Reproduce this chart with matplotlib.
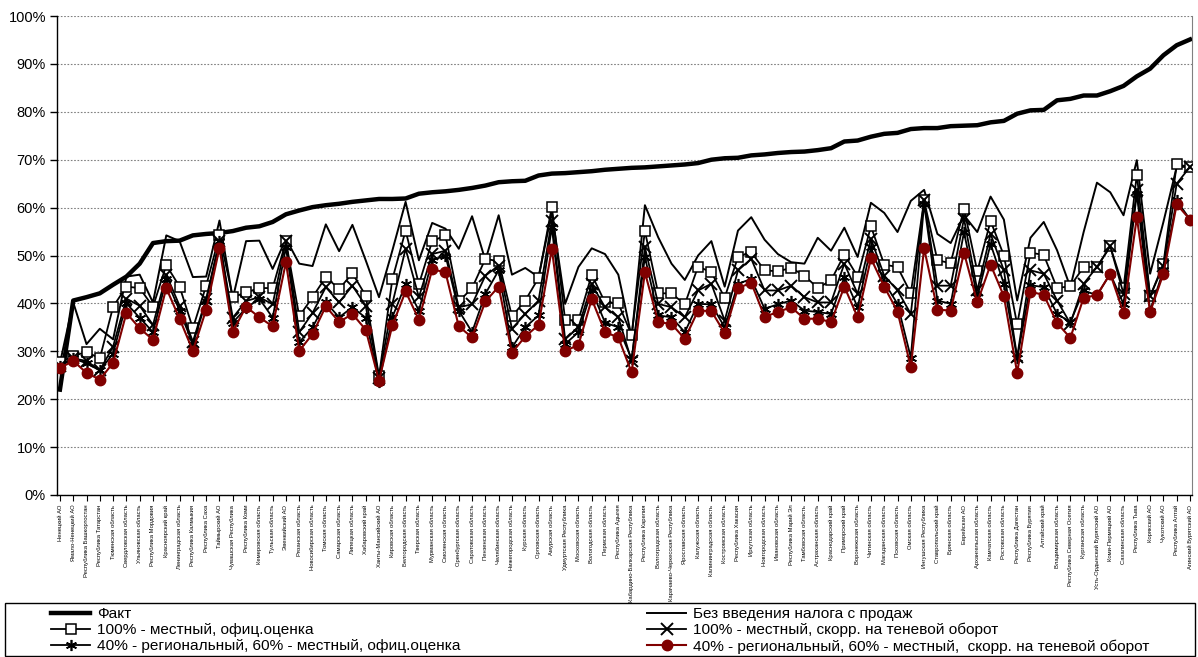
import matplotlib
matplotlib.use("Agg")
import matplotlib.pyplot as plt
from matplotlib.patches import Rectangle
from matplotlib.ticker import PercentFormatter, FixedLocator

# Данные (доля, %), регионы упорядочены по факту
regions = [
    "Ненецкий АО", "Ямало-Ненецкий АО", "Республика Башкортостан", "Республика Татарстан",
    "Тюменская область", "Свердловская область", "Ульяновская область", "Республика Мордовия",
    "Красноярский край", "Ленинградская область", "Республика Калмыкия", "Республика Саха",
    "Таймырский АО", "Чувашская Республика", "Республика Коми", "Кемеровская область",
    "Тульская область", "Эвенкийский АО", "Рязанская область", "Новосибирская область",
    "Томская область", "Самарская область", "Липецкая область", "Хабаровский край",
    "Ханты-Мансийский АО", "Кировская область", "Белгородская область", "Тверская область",
    "Мурманская область", "Смоленская область", "Оренбургская область", "Саратовская область",
    "Пензенская область", "Челябинская область", "Нижегородская область", "Курская область",
    "Орловская область", "Амурская область", "Удмуртская Республика", "Московская область",
    "Вологодская область", "Пермская область", "Республика Адыгея",
    "Кабардино-Балкарская Республика", "Республика Карелия", "Волгоградская область",
    "Карачаево-Черкесская Республика", "Ярославская область", "Калужская область",
    "Калининградская область", "Костромская область", "Республика Хакасия", "Иркутская область",
    "Новгородская область", "Ивановская область", "Республика Марий Эл", "Тамбовская область",
    "Астраханская область", "Краснодарский край", "Приморский край", "Воронежская область",
    "Читинская область", "Магаданская область", "Псковская область", "Омская область",
    "Ингушская Республика", "Ставропольский край", "Брянская область", "Еврейская АО",
    "Архангельская область", "Камчатская область", "Ростовская область", "Республика Дагестан",
    "Республика Бурятия", "Алтайский край", "Владимирская область", "Республика Северная Осетия",
    "Курганская область", "Усть-Ордынский Бурятский АО", "Коми-Пермяцкий АО",
    "Сахалинская область", "Республика Тыва", "Корякский АО", "Чукотский АО",
    "Республика Алтай", "Агинский Бурятский АО",
]

fakt = [
    22.0, 40.6, 41.3, 42.1, 43.9, 45.6, 48.3, 52.6, 53.0, 53.1,
    54.2, 54.5, 54.7, 55.1, 55.8, 56.1, 57.0, 58.6, 59.4, 60.1,
    60.5, 60.8, 61.2, 61.5, 61.8, 61.8, 61.9, 62.9, 63.2, 63.4,
    63.7, 64.1, 64.6, 65.3, 65.5, 65.6, 66.7, 67.1, 67.2, 67.4,
    67.6, 67.9, 68.1, 68.3, 68.4, 68.6, 68.8, 69.0, 69.3, 70.0,
    70.3, 70.4, 70.9, 71.1, 71.4, 71.6, 71.7, 72.0, 72.4, 73.8,
    74.0, 74.8, 75.4, 75.6, 76.4, 76.6, 76.6, 77.0, 77.1, 77.2,
    77.8, 78.1, 79.6, 80.3, 80.4, 82.4, 82.7, 83.4, 83.4, 84.3,
    85.4, 87.4, 89.0, 91.8, 93.9, 95.1,
]

bez_naloga = [
    27.5, 40.2, 31.5, 34.7, 32.5, 45.6, 46.0, 40.2, 54.2, 53.0,
    45.5, 45.6, 57.3, 41.0, 53.0, 53.1, 47.2, 53.5, 48.3, 47.8,
    56.5, 50.9, 56.4, 49.0, 41.3, 51.0, 61.2, 49.0, 56.8, 55.6,
    51.4, 58.2, 49.0, 58.4, 46.0, 47.4, 45.5, 59.0, 39.9, 47.6,
    51.5, 50.3, 46.0, 33.0, 60.5, 53.8, 48.3, 44.9, 50.0, 53.0,
    43.5, 55.2, 58.0, 53.3, 50.3, 48.6, 48.3, 53.7, 51.0, 55.8,
    49.7, 61.0, 58.9, 54.9, 61.4, 63.7, 54.5, 52.6, 58.4, 54.9,
    62.3, 57.5, 40.6, 53.7, 57.0, 51.1, 43.4, 54.9, 65.2, 63.2,
    58.4, 69.9, 46.2, 57.0, 68.5, 68.5,
]

mest_ofic = [
    27.7, 29.0, 29.9, 28.5, 39.3, 43.5, 43.2, 39.3, 48.0, 43.5,
    34.8, 43.7, 54.2, 41.3, 42.3, 43.2, 43.2, 53.0, 37.3, 41.3,
    45.5, 43.0, 46.3, 41.6, 24.8, 45.0, 55.2, 44.0, 53.0, 54.2,
    40.4, 43.2, 49.3, 48.8, 37.3, 40.6, 45.3, 60.2, 36.5, 36.5,
    46.0, 40.2, 40.0, 33.4, 55.1, 42.1, 42.1, 39.8, 47.7, 46.5,
    41.2, 49.7, 50.7, 46.9, 46.7, 47.4, 45.8, 43.2, 44.8, 50.2,
    45.6, 56.1, 48.1, 47.6, 42.1, 61.5, 49.0, 48.4, 59.8, 46.7,
    57.2, 50.0, 35.6, 50.6, 50.1, 43.2, 43.6, 47.6, 47.6, 51.9,
    43.2, 66.9, 41.5, 48.3, 69.0, 68.5,
]

mest_skorr = [
    27.0, 28.5, 28.0, 26.0, 31.0, 41.0, 39.5, 35.5, 46.0, 39.5,
    32.0, 41.0, 53.0, 37.0, 40.5, 41.3, 39.8, 53.0, 34.0, 38.0,
    43.4, 40.2, 43.7, 39.5, 24.5, 39.9, 51.4, 41.3, 50.3, 51.0,
    39.2, 39.8, 45.8, 47.9, 34.7, 37.8, 40.6, 57.3, 32.5, 35.0,
    44.0, 39.2, 37.1, 28.0, 51.7, 39.9, 39.2, 37.1, 42.7, 44.1,
    36.4, 46.9, 49.3, 42.7, 42.7, 43.7, 41.3, 40.2, 40.2, 48.3,
    42.0, 53.5, 45.8, 42.7, 37.8, 61.5, 43.7, 43.7, 57.7, 42.7,
    54.5, 46.9, 28.8, 46.9, 46.2, 40.6, 35.8, 44.1, 47.6, 51.9,
    42.0, 63.6, 41.5, 47.9, 65.0, 68.5,
]

reg_ofic = [
    27.0, 28.5, 27.5, 26.0, 29.5, 40.0, 37.0, 34.0, 45.0, 38.5,
    31.5, 40.5, 53.0, 36.0, 39.0, 41.0, 37.0, 51.7, 31.9, 35.0,
    40.2, 37.1, 39.2, 37.0, 23.5, 37.1, 44.0, 38.5, 49.0, 50.0,
    38.5, 34.0, 42.0, 46.9, 30.8, 35.0, 37.5, 55.9, 31.5, 34.0,
    42.7, 36.0, 35.0, 28.4, 49.7, 37.5, 37.1, 34.0, 39.9, 39.8,
    35.0, 44.1, 45.1, 38.9, 39.8, 40.6, 38.5, 38.2, 37.8, 45.5,
    39.2, 51.7, 44.4, 39.9, 28.7, 60.8, 40.6, 39.9, 54.9, 41.3,
    52.4, 44.1, 28.5, 43.8, 43.4, 37.8, 36.1, 42.7, 41.7, 46.2,
    39.9, 62.9, 38.5, 46.9, 61.5, 57.5,
]

reg_skorr = [
    26.5, 28.0, 25.5, 24.1, 27.6, 38.0, 34.8, 32.4, 43.2, 36.8,
    30.1, 38.7, 51.6, 34.1, 39.3, 37.1, 35.2, 48.6, 30.1, 33.6,
    39.4, 36.1, 37.8, 34.5, 23.9, 35.4, 42.5, 36.6, 47.1, 46.5,
    35.2, 32.9, 40.4, 43.5, 29.7, 33.1, 35.5, 51.4, 30.1, 31.3,
    40.9, 34.0, 32.9, 25.6, 46.5, 36.1, 35.7, 32.6, 38.5, 38.4,
    33.8, 43.2, 44.3, 37.2, 38.2, 39.2, 36.8, 36.8, 36.1, 43.5,
    37.1, 49.4, 43.5, 38.3, 26.7, 51.5, 38.7, 38.5, 50.6, 40.2,
    48.1, 41.5, 25.5, 42.4, 41.8, 35.9, 32.8, 41.2, 41.7, 46.2,
    38.0, 58.0, 38.2, 46.2, 60.7, 57.5,
]

labels_legend = [
    "Факт",
    "Без введения налога с продаж",
    "100% - местный, офиц.оценка",
    "100% - местный, скорр. на теневой оборот",
    "40% - региональный, 60% - местный, офиц.оценка",
    "40% - региональный, 60% - местный,  скорр. на теневой оборот",
]

plt.rcParams['font.family'] = ['Liberation Sans', 'DejaVu Sans']

fig = plt.figure(figsize=(11.98, 6.57), dpi=100)
ax = fig.add_axes([57 / 1198, 1 - 495 / 657, (1192 - 57) / 1198, (495 - 16) / 657])

x = list(range(len(regions)))
dark_red = '#800000'

h_fakt, = ax.plot(x, fakt, color='black', lw=3.2, solid_joinstyle='round', zorder=3)
h_bez, = ax.plot(x, bez_naloga, color='black', lw=1.4, zorder=3)
h_mo, = ax.plot(x, mest_ofic, color='black', lw=1.3, marker='s', ms=7,
                mfc='white', mec='black', mew=1.1, zorder=4)
h_ms, = ax.plot(x, mest_skorr, color='black', lw=1.3, marker='x', ms=8,
                mec='black', mew=1.4, zorder=5)
h_ro, = ax.plot(x, reg_ofic, color='black', lw=1.3, marker=(6, 2, 0), ms=8,
                mec='black', mew=1.2, zorder=6)
h_rs, = ax.plot(x, reg_skorr, color=dark_red, lw=1.5, marker='o', ms=7.5,
                mfc=dark_red, mec=dark_red, zorder=7)

ax.set_xlim(-0.22, 85.15)
ax.set_ylim(0, 100)
ax.yaxis.set_major_locator(FixedLocator(range(0, 101, 10)))
ax.yaxis.set_major_formatter(PercentFormatter(decimals=0))
ax.tick_params(axis='y', labelsize=10.5, length=5, width=1, pad=3)
ax.grid(axis='y', color='#808080', ls=(0, (1.5, 1.5)), lw=0.8, zorder=0)

ax.set_xticks(x)
ax.set_xticklabels(regions, rotation=90, fontsize=4.2, va='top', ha='center')
ax.tick_params(axis='x', length=4, width=0.8, pad=3)

ax.spines['top'].set_visible(False)
ax.spines['right'].set_color('#808080')
ax.spines['left'].set_linewidth(1.0)
ax.spines['bottom'].set_linewidth(1.0)

# рамка легенды
fig.patches.append(Rectangle((5 / 1198, 0.001), 1190 / 1198, (657 - 604) / 657,
                             transform=fig.transFigure, fill=False,
                             edgecolor='black', lw=1.0))

leg_kw = dict(loc='upper left', frameon=False, fontsize=11.1, handlelength=2.55,
              handletextpad=0.45, labelspacing=0.13, borderpad=0, borderaxespad=0)
fig.legend([h_fakt, h_mo, h_ro], [labels_legend[0], labels_legend[2], labels_legend[4]],
           bbox_to_anchor=(51 / 1198, 1 - 607 / 657), **leg_kw)
fig.legend([h_bez, h_ms, h_rs], [labels_legend[1], labels_legend[3], labels_legend[5]],
           bbox_to_anchor=(647 / 1198, 1 - 607 / 657), **leg_kw)

fig.savefig('out.png', dpi=100)
